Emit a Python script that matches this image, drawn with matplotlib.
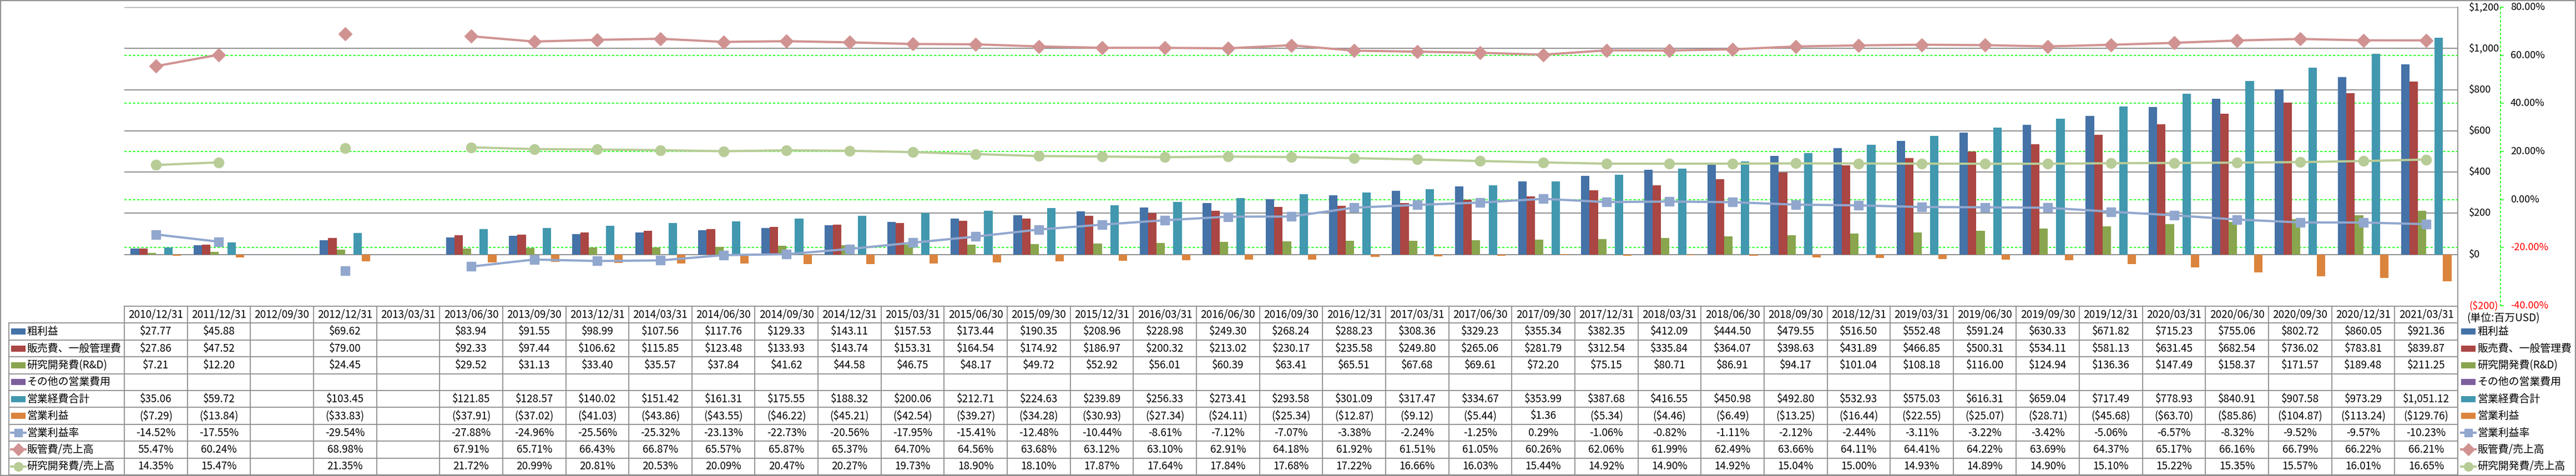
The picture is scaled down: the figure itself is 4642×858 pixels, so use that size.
import numpy as np
import matplotlib
matplotlib.use('Agg')
import matplotlib.pyplot as plt
import matplotlib.transforms as mtrans
from matplotlib.patches import Rectangle

plt.rcParams['font.family'] = ['Noto Sans CJK JP', 'DejaVu Sans']

nan = np.nan
dates = ["2010/12/31", "2011/12/31", "2012/09/30", "2012/12/31", "2013/03/31", "2013/06/30",
         "2013/09/30", "2013/12/31", "2014/03/31", "2014/06/30", "2014/09/30", "2014/12/31",
         "2015/03/31", "2015/06/30", "2015/09/30", "2015/12/31", "2016/03/31", "2016/06/30",
         "2016/09/30", "2016/12/31", "2017/03/31", "2017/06/30", "2017/09/30", "2017/12/31",
         "2018/03/31", "2018/06/30", "2018/09/30", "2018/12/31", "2019/03/31", "2019/06/30",
         "2019/09/30", "2019/12/31", "2020/03/31", "2020/06/30", "2020/09/30", "2020/12/31",
         "2021/03/31"]

gross = [27.77, 45.88, nan, 69.62, nan, 83.94, 91.55, 98.99, 107.56, 117.76, 129.33, 143.11,
         157.53, 173.44, 190.35, 208.96, 228.98, 249.30, 268.24, 288.23, 308.36, 329.23, 355.34,
         382.35, 412.09, 444.50, 479.55, 516.50, 552.48, 591.24, 630.33, 671.82, 715.23, 755.06,
         802.72, 860.05, 921.36]
sga = [27.86, 47.52, nan, 79.00, nan, 92.33, 97.44, 106.62, 115.85, 123.48, 133.93, 143.74,
       153.31, 164.54, 174.92, 186.97, 200.32, 213.02, 230.17, 235.58, 249.80, 265.06, 281.79,
       312.54, 335.84, 364.07, 398.63, 431.89, 466.85, 500.31, 534.11, 581.13, 631.45, 682.54,
       736.02, 783.81, 839.87]
rnd = [7.21, 12.20, nan, 24.45, nan, 29.52, 31.13, 33.40, 35.57, 37.84, 41.62, 44.58,
       46.75, 48.17, 49.72, 52.92, 56.01, 60.39, 63.41, 65.51, 67.68, 69.61, 72.20,
       75.15, 80.71, 86.91, 94.17, 101.04, 108.18, 116.00, 124.94, 136.36, 147.49, 158.37,
       171.57, 189.48, 211.25]
other = [nan] * 37
opex = [35.06, 59.72, nan, 103.45, nan, 121.85, 128.57, 140.02, 151.42, 161.31, 175.55, 188.32,
        200.06, 212.71, 224.63, 239.89, 256.33, 273.41, 293.58, 301.09, 317.47, 334.67, 353.99,
        387.68, 416.55, 450.98, 492.80, 532.93, 575.03, 616.31, 659.04, 717.49, 778.93, 840.91,
        907.58, 973.29, 1051.12]
opinc = [-7.29, -13.84, nan, -33.83, nan, -37.91, -37.02, -41.03, -43.86, -43.55, -46.22, -45.21,
         -42.54, -39.27, -34.28, -30.93, -27.34, -24.11, -25.34, -12.87, -9.12, -5.44, 1.36,
         -5.34, -4.46, -6.49, -13.25, -16.44, -22.55, -25.07, -28.71, -45.68, -63.70, -85.86,
         -104.87, -113.24, -129.76]
opmargin = [-14.52, -17.55, nan, -29.54, nan, -27.88, -24.96, -25.56, -25.32, -23.13, -22.73, -20.56,
            -17.95, -15.41, -12.48, -10.44, -8.61, -7.12, -7.07, -3.38, -2.24, -1.25, 0.29,
            -1.06, -0.82, -1.11, -2.12, -2.44, -3.11, -3.22, -3.42, -5.06, -6.57, -8.32,
            -9.52, -9.57, -10.23]
sga_ratio = [55.47, 60.24, nan, 68.98, nan, 67.91, 65.71, 66.43, 66.87, 65.57, 65.87, 65.37,
             64.70, 64.56, 63.68, 63.12, 63.10, 62.91, 64.18, 61.92, 61.51, 61.05, 60.26,
             62.06, 61.99, 62.49, 63.66, 64.11, 64.41, 64.22, 63.69, 64.37, 65.17, 66.16,
             66.79, 66.22, 66.21]
rnd_ratio = [14.35, 15.47, nan, 21.35, nan, 21.72, 20.99, 20.81, 20.53, 20.09, 20.47, 20.27,
             19.73, 18.90, 18.10, 17.87, 17.64, 17.84, 17.68, 17.22, 16.66, 16.03, 15.44,
             14.92, 14.90, 14.92, 15.04, 15.00, 14.93, 14.89, 14.90, 15.10, 15.22, 15.35,
             15.57, 16.01, 16.65]

bar_names = ["粗利益", "販売費、一般管理費", "研究開発費(R&D)", "その他の営業費用", "営業経費合計", "営業利益"]
line_names = ["営業利益率", "販管費/売上高", "研究開発費/売上高"]
usd_ticks = [1200, 1000, 800, 600, 400, 200, 0]
pct_ticks = [80, 60, 40, 20, 0, -20]

bar_colors = ['#4572A7', '#AA4643', '#89A54E', '#7D5F9E', '#4198AF', '#DB843D']
line_colors = ['#91A7CE', '#D09392', '#B8CC97']
line_markers = ['s', 'D', 'o']
line_ms = [12, 12.5, 13]

# ---------- layout (pixels) ----------
WP, HP = 4642, 858
L, R, T, B = 224, 4429, 13, 533
GRID = '#878787'
TAB = '#8E8E8E'

fig = plt.figure(figsize=(WP / 100, HP / 100), dpi=100)
over = fig.add_axes([0, 0, 1, 1])
over.set_xlim(0, WP)
over.set_ylim(HP, 0)
over.axis('off')

ax = fig.add_axes([L / WP, 1 - B / HP, (R - L) / WP, (B - T) / HP])
ax2 = ax.twinx()
for a in (ax, ax2):
    a.patch.set_visible(False)
    for s in a.spines.values():
        s.set_visible(False)
    a.set_xticks([])
    a.set_yticks([])

n = len(dates)
x = np.arange(n)
ax.set_xlim(-0.5, n - 0.5)
ax.set_ylim(-200, 1200)
ax2.set_ylim(-40, 80)

# gridlines
for v in usd_ticks:
    ax.axhline(v, color=GRID, lw=1.3, zorder=0.5)
g_tr = mtrans.blended_transform_factory(ax.transAxes, ax2.transData)
for p in pct_ticks[1:]:
    ax.plot([0, 1], [p, p], transform=g_tr, color='#00FF00', lw=1.1,
            ls=(0, (3, 2)), zorder=0.6)

# bars
bw = 1 / 7.5
bar_series = [gross, sga, rnd, other, opex, opinc]
for i, (vals, c) in enumerate(zip(bar_series, bar_colors)):
    v = np.array(vals, dtype=float)
    m = np.isfinite(v)
    if m.any():
        ax.bar(x[m] + (i - 2.5) * bw, v[m], width=bw, color=c, linewidth=0, zorder=2)

# lines
line_series = [opmargin, sga_ratio, rnd_ratio]
for vals, c, mk, ms in zip(line_series, line_colors, line_markers, line_ms):
    ax2.plot(x, vals, color=c, lw=2.9, marker=mk, ms=ms, mfc=c, mec=c, zorder=3,
             solid_capstyle='round')

# value axis line (right of plot, continues as table border)
over.plot([R, R], [T, 856], color=TAB, lw=1.3)

# USD axis labels
usd_tr = mtrans.blended_transform_factory(over.transData, ax.transData)
for v in usd_ticks:
    over.text(4449, v, f"${v:,}", transform=usd_tr, ha='left', va='center',
              fontsize=13, color='black')
over.text(4449, 551, "($200)", ha='left', va='center', fontsize=13, color='red')

# percent axis (green dashed)
over.plot([4506, 4506], [T, 551], color='#00FF00', lw=1.1, ls=(0, (3, 2)))
pct_tr = mtrans.blended_transform_factory(over.transData, ax2.transData)
for p in pct_ticks:
    over.plot([4506, 4511], [p, p], transform=pct_tr, color='#00FF00', lw=1.1)
    over.text(4524, p, f"{p:.2f}%", transform=pct_tr, ha='left', va='center',
              fontsize=13, color='red' if p < 0 else 'black')
over.plot([4506, 4511], [551, 551], color='#00FF00', lw=1.1)
over.text(4524, 551, "-40.00%", ha='left', va='center', fontsize=13, color='red')

# ---------- data table ----------
row_top = 552
rh = 30.4
nrows = 10
rows_y = [row_top + k * rh for k in range(nrows + 1)]
tab_tr = mtrans.blended_transform_factory(ax.transData, over.transData)

# horizontal lines
over.plot([L, R], [rows_y[0], rows_y[0]], color=TAB, lw=1.3)
for yk in rows_y[1:]:
    over.plot([16, R], [yk, yk], color=TAB, lw=1.3)
# vertical lines
over.plot([16, 16], [rows_y[1], rows_y[-1]], color=TAB, lw=1.3)
for b in np.arange(n + 1) - 0.5:
    over.plot([b, b], [rows_y[0], rows_y[-1]], transform=tab_tr, color=TAB, lw=1.3)


def fmt_usd(v):
    if not np.isfinite(v):
        return ""
    return f"(${-v:,.2f})" if v < 0 else f"${v:,.2f}"


def fmt_pct(v):
    if not np.isfinite(v):
        return ""
    return f"{v:.2f}%"


FS = 13.6
yc = [(rows_y[k] + rows_y[k + 1]) / 2 for k in range(nrows)]
for i, d in enumerate(dates):
    over.text(i, yc[0], d, transform=tab_tr, ha='center', va='center', fontsize=FS)

rows = [(s, fmt_usd) for s in bar_series] + [(s, fmt_pct) for s in line_series]
for r, (vals, f) in enumerate(rows):
    for i, v in enumerate(vals):
        t = f(float(v))
        if t:
            over.text(i, yc[r + 1], t, transform=tab_tr, ha='center', va='center', fontsize=FS)


def draw_key(x0, y, r):
    if r < 6:
        over.add_patch(Rectangle((x0, y - 5.5), 26, 11, color=bar_colors[r], lw=0))
    else:
        k = r - 6
        over.plot([x0, x0 + 26], [y, y], color=line_colors[k], lw=2.9)
        over.plot([x0 + 13], [y], marker=line_markers[k], ms=line_ms[k] - 1.5,
                  color=line_colors[k], mec=line_colors[k])


names = bar_names + line_names
for r, nm in enumerate(names):
    y = yc[r + 1]
    draw_key(20, y, r)
    over.text(48, y, nm, ha='left', va='center', fontsize=FS)
    draw_key(4435, y, r)
    over.text(4464, y, nm, ha='left', va='center', fontsize=FS)

over.text(4445, 574, "(単位:百万USD)", ha='left', va='center', fontsize=FS)

# outer frame
over.add_patch(Rectangle((0.7, 1.2), WP - 1.7, HP - 2.4, fill=False, ec=GRID, lw=1.3))

fig.savefig('out.png', dpi=100)
